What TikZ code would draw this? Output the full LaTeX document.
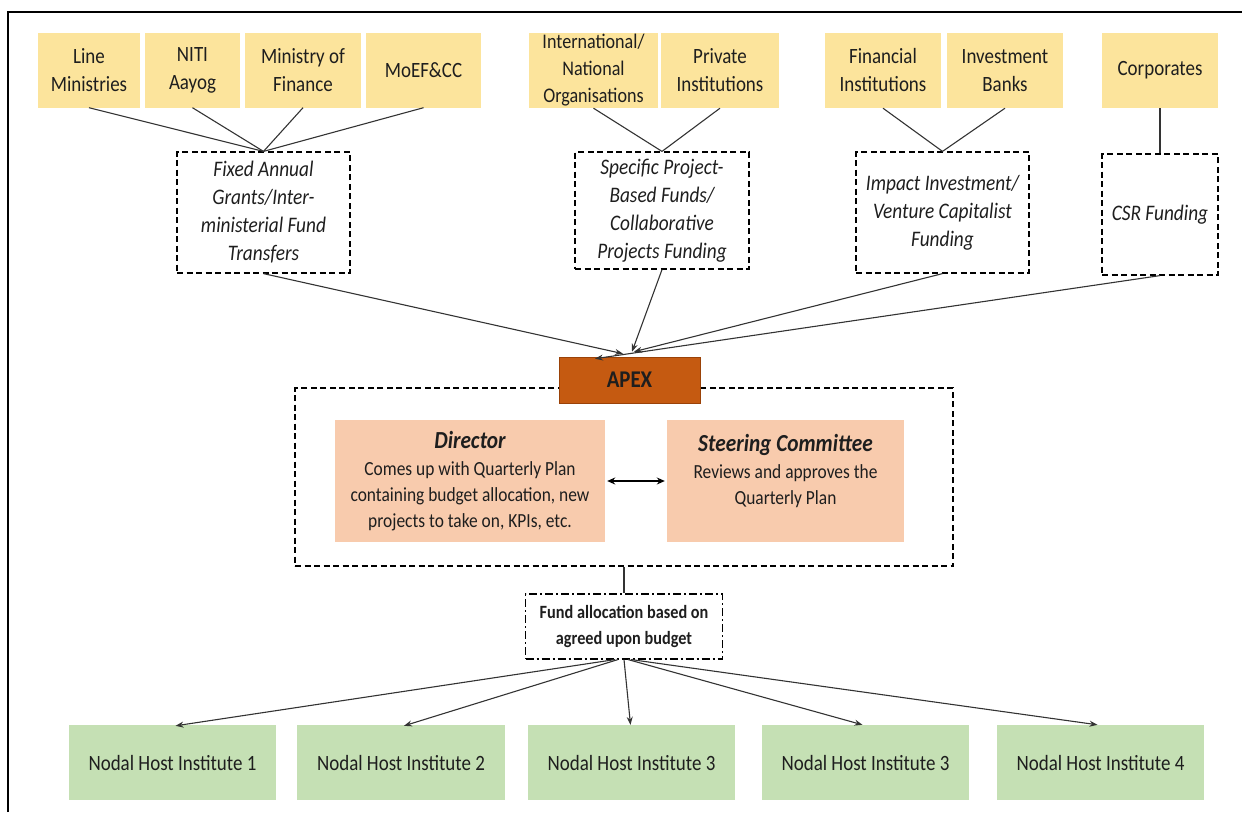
\documentclass[tikz,border=0pt]{standalone}
\usepackage{fontspec}
\setmainfont{Carlito}[FakeStretch=0.87]
\usetikzlibrary{arrows.meta}

\definecolor{srcfill}{HTML}{FCE49C}
\definecolor{apexfill}{HTML}{C55A11}
\definecolor{apexline}{HTML}{9A4208}
\definecolor{bodyfill}{HTML}{F8CBAD}
\definecolor{nodefill}{HTML}{C5E0B4}
\definecolor{txt}{HTML}{1E1E1E}
\definecolor{wire}{HTML}{333333}

\newcommand\headlinefont{\fontsize{24.5}{26}\selectfont\bfseries\itshape}

\tikzset{
  srcbox/.style={fill=srcfill, minimum height=75pt, inner sep=1pt, align=center,
    text=txt, font=\fontsize{21.8}{28}\selectfont},
  fundsrc/.style={draw=black, dash pattern=on 6pt off 3.5pt, line width=1.2pt,
    inner sep=1pt, align=center, text=txt, font=\fontsize{22.2}{28}\selectfont\itshape},
  bodybox/.style={fill=bodyfill, minimum height=122pt, inner sep=1pt, align=center,
    text=txt, font=\fontsize{20}{26}\selectfont},
  hostbox/.style={fill=nodefill, minimum width=207pt, minimum height=75pt, inner sep=1pt,
    align=center, text=txt, font=\fontsize{21.8}{24}\selectfont},
  link/.style={draw=wire, line width=1.1pt},
  feed/.style={draw=wire, line width=1.1pt, -{Stealth[length=8pt,width=6pt]}},
}

\begin{document}
\begin{tikzpicture}[x=1pt,y=-1pt]
\useasboundingbox (0,0) rectangle (1242,812);

% frame
\coordinate (fbl) at (8,812);
\coordinate (ftl) at (8,12);
\coordinate (ftr) at (1242,12);
\draw[line width=2.2pt] (fbl) -- (ftl) -- (ftr);

% funding sources
\node[srcbox, minimum width=102pt] (lm) at (89,70) {Line\\Ministries};
\node[srcbox, minimum width=95pt] (niti) at (192.5,70) {NITI\\Aayog};
\node[srcbox, minimum width=116pt] (mof) at (303,70) {Ministry of\\Finance};
\node[srcbox, minimum width=115pt] (moef) at (423.5,70) {MoEF\&CC};
\node[srcbox, minimum width=129pt, font=\fontsize{20.8}{27}\selectfont] (intl) at (593.5,70.5) {International/\\National\\Organisations};
\node[srcbox, minimum width=118pt] (priv) at (720,70.5) {Private\\Institutions};
\node[srcbox, minimum width=116pt] (fin) at (883,70.5) {Financial\\Institutions};
\node[srcbox, minimum width=116pt] (inv) at (1005,70.5) {Investment\\Banks};
\node[srcbox, minimum width=116pt] (corp) at (1160,70.5) {Corporates};

% funding channels
\node[fundsrc, minimum width=173pt, minimum height=121pt] (fixed) at (263.5,212.5)
  {Fixed Annual\\Grants/Inter-\\ministerial Fund\\Transfers};
\node[fundsrc, minimum width=174pt, minimum height=117pt] (spec) at (662,210.5)
  {Specific Project-\\Based Funds/\\Collaborative\\Projects Funding};
\node[fundsrc, minimum width=173pt, minimum height=121pt] (impact) at (942.5,212.5)
  {Impact Investment/\\Venture Capitalist\\Funding};
\node[fundsrc, minimum width=116pt, minimum height=121pt] (csr) at (1160,214.5)
  {CSR Funding};

\draw[link] (lm.south) -- (fixed.north);
\draw[link] (niti.south) -- (fixed.north);
\draw[link] (mof.south) -- (fixed.north);
\draw[link] (moef.south) -- (fixed.north);
\draw[link] (intl.south) -- (spec.north);
\draw[link] (priv.south) -- (spec.north);
\draw[link] (fin.south) -- (impact.north);
\draw[link] (inv.south) -- (impact.north);
\draw[link] (corp.south) -- (csr.north);

% apex body
\node[draw=black, dash pattern=on 6pt off 3.5pt, line width=1.2pt,
  minimum width=658pt, minimum height=178pt] (group) at (624,477) {};
\node[fill=apexfill, draw=apexline, line width=0.6pt, minimum width=141pt, minimum height=46pt,
  text=txt, font=\fontsize{24}{26}\selectfont\bfseries] (apex) at (629.5,380) {APEX};

\node[bodybox, minimum width=270pt] (director) at (470,481)
  {{\headlinefont Director}\\[1pt]
   Comes up with Quarterly Plan\\containing budget allocation, new\\projects to take on, KPIs, etc.};
\node[bodybox, minimum width=237pt] (steering) at (785.5,481)
  {{\headlinefont Steering Committee}\\[1pt]
   Reviews and approves the\\Quarterly Plan\\[-2pt]};
\draw[black, line width=1.4pt, {Stealth[length=8pt,width=7pt]}-{Stealth[length=8pt,width=7pt]},
  shorten <=2pt, shorten >=2pt] (director.east) -- (steering.west);

% channels into apex
\draw[feed] (fixed.south) -- ([xshift=-6.5pt,yshift=3pt]apex.north);
\draw[feed] (spec.south) -- ([xshift=2.5pt,yshift=5pt]apex.north);
\draw[feed] (impact.south) -- ([xshift=4.5pt,yshift=5pt]apex.north);
\draw[feed] (csr.south) -- ([xshift=-34.5pt,yshift=-2pt]apex.north);

% allocation
\node[draw=black, line width=1.1pt, dash pattern=on 8pt off 3pt on 2pt off 3pt,
  minimum width=197pt, minimum height=65pt, inner sep=1pt, align=center, text=txt,
  font=\fontsize{18.7}{26.5}\selectfont\bfseries] (fund) at (624,626.5)
  {Fund allocation based on\\agreed upon budget};
\draw[link] (group.south) -- (fund.north);

% nodal host institutes
\node[hostbox] (n1) at (172.5,762.5) {Nodal Host Institute 1};
\node[hostbox, minimum width=208pt] (n2) at (401,762.5) {Nodal Host Institute 2};
\node[hostbox] (n3) at (631.5,762.5) {Nodal Host Institute 3};
\node[hostbox] (n4) at (865.5,762.5) {Nodal Host Institute 3};
\node[hostbox] (n5) at (1100.5,762.5) {Nodal Host Institute 4};

\draw[feed] ([xshift=-9pt]fund.south) -- ([xshift=3pt,yshift=-1pt]n1.north);
\draw[feed] ([xshift=-6pt]fund.south) -- ([xshift=3pt,yshift=-1pt]n2.north);
\draw[feed] (fund.south) -- ([xshift=-1pt]n3.north);
\draw[feed] ([xshift=4pt]fund.south) -- ([xshift=-3pt]n4.north);
\draw[feed] ([xshift=7pt]fund.south) -- ([xshift=-3pt]n5.north);
\end{tikzpicture}
\end{document}
